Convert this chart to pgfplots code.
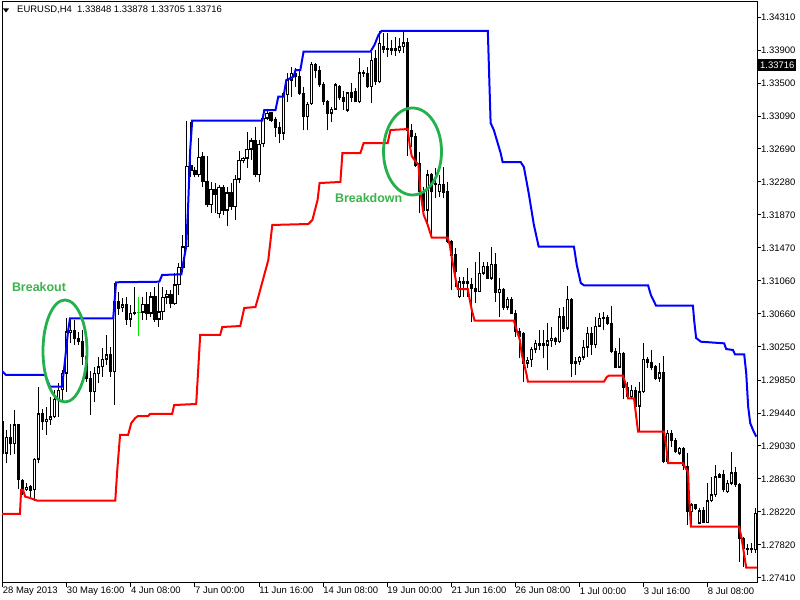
\documentclass[border=0pt]{standalone}
\usepackage{pgfplots}
\pgfplotsset{compat=1.18}
\usepackage{pgfplotstable}
\usepackage{fontspec}
\setmainfont{Liberation Sans}
\definecolor{mtgreen}{RGB}{34,177,76}
\definecolor{txtgreen}{RGB}{60,180,75}
\definecolor{doji}{RGB}{0,235,0}
\pgfplotstableread{
i o h l c
0 1.29333 1.29374 1.28841 1.28943
1 1.28943 1.29230 1.28820 1.29140
2 1.29140 1.29304 1.28923 1.29058
3 1.29058 1.29476 1.28935 1.29292
4 1.29292 1.29304 1.28500 1.28615
5 1.28615 1.28623 1.28430 1.28512
6 1.28500 1.28574 1.28484 1.28525
7 1.28533 1.28554 1.28410 1.28484
8 1.28492 1.28881 1.28361 1.28869
9 1.28869 1.29763 1.28820 1.29427
10 1.29435 1.29484 1.29230 1.29333
11 1.29333 1.29517 1.29169 1.29361
12 1.29361 1.29640 1.29292 1.29394
13 1.29394 1.29722 1.29374 1.29607
14 1.29607 1.29804 1.29394 1.29722
15 1.29722 1.29968 1.29558 1.29927
16 1.29927 1.30604 1.29702 1.30440
17 1.30431 1.30604 1.30296 1.30460
18 1.30460 1.30583 1.30276 1.30358
19 1.30358 1.30440 1.30276 1.30317
20 1.30317 1.30460 1.30030 1.30132
21 1.30132 1.30214 1.29825 1.29866
22 1.29866 1.29950 1.29415 1.29702
23 1.29702 1.30009 1.29579 1.29927
24 1.29919 1.30132 1.29804 1.30009
25 1.30009 1.30235 1.29886 1.30099
26 1.30099 1.30399 1.30030 1.30153
27 1.30165 1.30255 1.29886 1.29948
28 1.29948 1.31042 1.29538 1.30809
29 1.30809 1.30932 1.30645 1.30727
30 1.30739 1.30850 1.30686 1.30768
31 1.30768 1.30870 1.30522 1.30583
32 1.30591 1.30768 1.30501 1.30665
33 1.30665 1.30985 1.30644 1.30681
34 1.30677 1.30870 1.30390 1.30677
35 1.30677 1.30870 1.30583 1.30780
36 1.30780 1.30932 1.30583 1.30657
37 1.30665 1.30932 1.30624 1.30870
38 1.30870 1.30993 1.30562 1.30591
39 1.30591 1.31042 1.30501 1.30686
40 1.30686 1.30993 1.30583 1.30862
41 1.30862 1.30952 1.30780 1.30899
42 1.30899 1.30952 1.30727 1.30780
43 1.30780 1.31157 1.30768 1.31014
44 1.31014 1.31280 1.30890 1.31231
45 1.31231 1.31629 1.31219 1.31485
46 1.31485 1.33035 1.31465 1.32477
47 1.32489 1.33022 1.32346 1.32428
48 1.32428 1.32469 1.32338 1.32367
49 1.32367 1.32817 1.32346 1.32584
50 1.32592 1.32654 1.32215 1.32285
51 1.32285 1.32600 1.31977 1.31998
52 1.31998 1.32285 1.31895 1.32190
53 1.32190 1.32264 1.31900 1.32121
54 1.31887 1.32244 1.31834 1.32215
55 1.32215 1.32244 1.31875 1.31936
56 1.31936 1.32215 1.31739 1.32149
57 1.32149 1.32264 1.31936 1.31977
58 1.31977 1.32367 1.31813 1.32313
59 1.32313 1.32666 1.32264 1.32551
60 1.32543 1.32592 1.32510 1.32572
61 1.32572 1.32900 1.32449 1.32682
62 1.32682 1.32818 1.32551 1.32789
63 1.32789 1.32961 1.32346 1.32367
64 1.32367 1.32797 1.32285 1.32748
65 1.32748 1.33146 1.32715 1.33064
66 1.33064 1.33158 1.33044 1.33125
67 1.33133 1.33146 1.33023 1.33043
68 1.33051 1.33084 1.32838 1.32953
69 1.32953 1.33023 1.32756 1.32879
70 1.32879 1.33392 1.32797 1.33371
71 1.33351 1.33617 1.33269 1.33535
72 1.33535 1.33699 1.33330 1.33617
73 1.33617 1.33679 1.33453 1.33576
74 1.33576 1.33658 1.33350 1.33371
75 1.33371 1.33453 1.32920 1.33084
76 1.33084 1.33269 1.32920 1.33240
77 1.33240 1.33760 1.33228 1.33732
78 1.33732 1.33740 1.33556 1.33658
79 1.33658 1.33707 1.33453 1.33474
80 1.33474 1.33515 1.33228 1.33269
81 1.33269 1.33289 1.32920 1.33125
82 1.33125 1.33207 1.33023 1.33174
83 1.33174 1.33494 1.33166 1.33474
84 1.33461 1.33474 1.33289 1.33322
85 1.33322 1.33400 1.33166 1.33269
86 1.33166 1.33392 1.33146 1.33379
87 1.33379 1.33494 1.33269 1.33322
88 1.33400 1.33433 1.33269 1.33269
89 1.33269 1.33801 1.33248 1.33625
90 1.33625 1.33658 1.33576 1.33617
91 1.33617 1.33699 1.33433 1.33453
92 1.33453 1.33883 1.33248 1.33781
93 1.33802 1.33904 1.33474 1.33515
94 1.33515 1.34138 1.33494 1.33986
95 1.33945 1.34109 1.33863 1.33912
96 1.33912 1.34109 1.33822 1.33925
97 1.33925 1.34027 1.33843 1.33904
98 1.33904 1.34068 1.33830 1.33925
99 1.33896 1.34048 1.33863 1.33945
100 1.33945 1.34130 1.33863 1.33994
101 1.33994 1.34048 1.32600 1.32920
102 1.32920 1.32994 1.32715 1.32838
103 1.32838 1.32879 1.32469 1.32489
104 1.32510 1.32654 1.31895 1.32162
105 1.32162 1.32220 1.31875 1.31936
106 1.31936 1.32428 1.31780 1.32367
107 1.32367 1.32387 1.31596 1.32162
108 1.32244 1.32449 1.32080 1.32264
109 1.32162 1.32367 1.32100 1.32256
110 1.32256 1.32469 1.32080 1.32149
111 1.32162 1.32285 1.31526 1.31546
112 1.31546 1.31566 1.30952 1.31382
113 1.31394 1.31464 1.30993 1.31177
114 1.30870 1.31116 1.30850 1.31055
115 1.31055 1.31116 1.30870 1.31034
116 1.31034 1.31218 1.30870 1.31055
117 1.31014 1.31096 1.30562 1.30973
118 1.30973 1.31301 1.30788 1.30932
119 1.30932 1.31424 1.30932 1.31157
120 1.31157 1.31301 1.31137 1.31247
121 1.31247 1.31301 1.31096 1.31096
122 1.31096 1.31485 1.31075 1.31272
123 1.31272 1.31403 1.30809 1.30919
124 1.30919 1.31096 1.30624 1.30960
125 1.30960 1.30973 1.30706 1.30739
126 1.30739 1.30870 1.30706 1.30837
127 1.30837 1.30870 1.30657 1.30665
128 1.30665 1.30706 1.30378 1.30440
129 1.30440 1.30481 1.30111 1.30378
130 1.30419 1.30440 1.29825 1.30050
131 1.30050 1.30132 1.29989 1.30091
132 1.30091 1.30255 1.30009 1.30222
133 1.30222 1.30337 1.30173 1.30296
134 1.30296 1.30460 1.30214 1.30275
135 1.30275 1.30460 1.30111 1.30296
136 1.30275 1.30542 1.29968 1.30329
137 1.30329 1.30501 1.30255 1.30357
138 1.30357 1.30378 1.30275 1.30316
139 1.30316 1.30726 1.30296 1.30624
140 1.30632 1.30747 1.30440 1.30480
141 1.30480 1.31001 1.30460 1.30837
142 1.30837 1.30850 1.29886 1.30050
143 1.30050 1.30132 1.29907 1.30071
144 1.30071 1.30140 1.30030 1.30124
145 1.30124 1.30337 1.30091 1.30247
146 1.30247 1.30501 1.30132 1.30419
147 1.30419 1.30501 1.30153 1.30276
148 1.30276 1.30624 1.30235 1.30509
149 1.30509 1.30665 1.30493 1.30603
150 1.30603 1.30686 1.30460 1.30620
151 1.30620 1.30645 1.30521 1.30542
152 1.30542 1.30755 1.30173 1.30194
153 1.30194 1.30235 1.29989 1.30001
154 1.30001 1.30358 1.29989 1.30173
155 1.30173 1.30194 1.29607 1.29755
156 1.29755 1.29824 1.29620 1.29640
157 1.29640 1.29784 1.29620 1.29722
158 1.29722 1.29763 1.29517 1.29525
159 1.29525 1.29824 1.29210 1.29702
160 1.29702 1.30296 1.29681 1.30099
161 1.30099 1.30132 1.29989 1.30058
162 1.30058 1.30214 1.29968 1.30001
163 1.30017 1.30030 1.29845 1.29866
164 1.29866 1.30050 1.29824 1.29935
165 1.29935 1.30140 1.28820 1.28841
166 1.28841 1.29230 1.28820 1.29189
167 1.29189 1.29230 1.29025 1.29099
168 1.29099 1.29127 1.28943 1.28963
169 1.28943 1.29025 1.28923 1.29004
170 1.29004 1.29025 1.28738 1.28799
171 1.28787 1.28951 1.28062 1.28226
172 1.28226 1.28336 1.28041 1.28308
173 1.28308 1.28308 1.28246 1.28267
174 1.28082 1.28267 1.28074 1.28238
175 1.28246 1.28287 1.28082 1.28090
176 1.28090 1.28574 1.28082 1.28361
177 1.28361 1.28656 1.28340 1.28431
178 1.28431 1.28800 1.28410 1.28656
179 1.28677 1.28705 1.28636 1.28648
180 1.28677 1.28738 1.28472 1.28492
181 1.28472 1.28615 1.28451 1.28574
182 1.28574 1.28964 1.28554 1.28705
183 1.28705 1.28779 1.28533 1.28554
184 1.28554 1.28580 1.27610 1.27898
185 1.27898 1.27918 1.27540 1.27775
186 1.27775 1.27828 1.27692 1.27754
187 1.27754 1.27836 1.27713 1.27775
188 1.27754 1.28267 1.27713 1.28205
}\candles
\begin{document}
\begin{tikzpicture}[x=1bp,y=1bp]
\path[use as bounding box, fill=white] (0,0) rectangle (800,600);
\begin{axis}[
  at={(2bp,17bp)}, anchor=south west,
  scale only axis, width=755bp, height=581bp,
  xmin=-0.175, xmax=188.3,
  ymin=1.27348, ymax=1.34495,
  axis line style={black, line width=1bp},
  tick align=outside, major tick length=4bp,
  tick style={black, line width=1bp},
  xtick pos=left, ytick pos=right, yticklabel pos=right,
  xtick={0,16,32,48,64,80,96,112,128,144,160,176},
  xticklabels={28 May 2013,30 May 16:00,4 Jun 08:00,7 Jun 00:00,11 Jun 16:00,14 Jun 08:00,19 Jun 00:00,21 Jun 16:00,26 Jun 08:00,1 Jul 00:00,3 Jul 16:00,8 Jul 08:00},
  ytick={1.27410,1.27816,1.28222,1.28628,1.29034,1.29439,1.29845,1.30251,1.30657,1.31063,1.31469,1.31875,1.32281,1.32687,1.33092,1.33498,1.33904,1.34310},
  yticklabels={1.27410,1.27820,1.28220,1.28630,1.29030,1.29440,1.29850,1.30250,1.30660,1.31060,1.31470,1.31870,1.32280,1.32690,1.33090,1.33500,1.33900,1.34310},
  xticklabel style={anchor=north west, inner sep=0pt, font=\fontsize{9.5}{11}\selectfont},
  yticklabel style={anchor=west, inner sep=0pt, font=\fontsize{9.5}{11}\selectfont},
  clip mode=individual,
]
% wicks
\addplot[draw=none, mark=none, forget plot, error bars/.cd, y dir=plus, y explicit, error mark=none,
  error bar style={draw=black, line width=1bp}]
  table[x=i, y=l, y error expr=\thisrow{h}-\thisrow{l}] {\candles};
% bodies
\addplot[draw=none, mark=none, forget plot, error bars/.cd, y dir=plus, y explicit, error mark=none,
  error bar style={draw=black, line width=3.2bp}]
  table[x=i, y expr={min(\thisrow{o},\thisrow{c})-0.00006}, y error expr={abs(\thisrow{c}-\thisrow{o})+0.00012}] {\candles};
% hollow interior of bullish bodies
\addplot[draw=none, mark=none, forget plot, error bars/.cd, y dir=plus, y explicit, error mark=none,
  error bar style={draw=white, line width=1.2bp}]
  table[x=i, y expr={\thisrow{o}+0.00012}, y error expr={max(\thisrow{c}-\thisrow{o}-0.00024,0)}] {\candles};
% doji in green
\addplot[draw=none, mark=none, forget plot, error bars/.cd, y dir=plus, y explicit, error mark=none,
  error bar style={draw=doji, line width=1bp}]
  coordinates {(34,1.30390) +- (0,0.00480)};
\addplot[draw=none, mark=none, forget plot, error bars/.cd, y dir=plus, y explicit, error mark=none,
  error bar style={draw=doji, line width=3.2bp}]
  coordinates {(34,1.30671) +- (0,0.00012)};
% upper channel
\addplot[draw={rgb,255:red,0;green,0;blue,255}, line width=2bp, mark=none] coordinates {
(-0.2,1.29956) (0.8,1.29907) (10.6,1.29907) (11.8,1.29763) (14.8,1.29763) (15.3,1.29968) (16.3,1.30439) (16.8,1.30604) (27.6,1.30604) (28.3,1.31047) (39.1,1.31054) (39.8,1.31137) (44.6,1.31145) (45.1,1.31297) (45.8,1.31485) (46.3,1.31998) (46.8,1.32674) (47.3,1.33035) (64.8,1.33035) (65.3,1.33166) (68.1,1.33166) (68.8,1.33330) (70.1,1.33330) (70.8,1.33535) (72.6,1.33576) (73.1,1.33658) (74.3,1.33658) (75.1,1.33883) (91.8,1.33883) (92.8,1.33966) (93.8,1.34089) (94.6,1.34141) (121.1,1.34141) (121.8,1.33006) (122.6,1.32920) (124.3,1.32637) (124.8,1.32526) (129.3,1.32526) (130.1,1.32465) (131.3,1.32145) (132.6,1.31752) (133.6,1.31530) (133.8,1.31485) (142.6,1.31485) (143.3,1.31260) (144.3,1.31038) (145.1,1.31010) (161.1,1.31010) (161.8,1.30891) (163.1,1.30759) (172.3,1.30759) (172.6,1.30583) (173.1,1.30362) (174.3,1.30316) (180.1,1.30296) (180.6,1.30226) (182.3,1.30214) (182.8,1.30161) (185.1,1.30161) (185.6,1.29931) (186.1,1.29513) (186.6,1.29316) (187.3,1.29230) (188.1,1.29148)
};
% lower channel
\addplot[draw={rgb,255:red,255;green,0;blue,0}, line width=2bp, mark=none] coordinates {
(-0.2,1.28197) (4.3,1.28197) (4.6,1.28492) (5.1,1.28492) (5.6,1.28410) (6.8,1.28394) (8.6,1.28361) (28.1,1.28361) (28.6,1.28738) (29.3,1.29169) (31.3,1.29169) (32.1,1.29316) (33.1,1.29378) (33.8,1.29402) (36.3,1.29402) (36.8,1.29427) (42.3,1.29427) (42.8,1.29537) (48.3,1.29550) (48.8,1.29968) (49.3,1.30399) (54.3,1.30399) (54.8,1.30497) (59.3,1.30509) (60.3,1.30731) (63.1,1.30743) (63.8,1.30866) (66.3,1.31321) (67.3,1.31752) (76.3,1.31764) (77.3,1.31813) (78.6,1.32059) (79.1,1.32268) (84.3,1.32281) (84.8,1.32637) (89.3,1.32637) (90.1,1.32760) (96.1,1.32760) (96.8,1.32920) (101.1,1.32932) (101.6,1.32736) (102.1,1.32600) (102.8,1.32551) (103.8,1.32490) (104.3,1.32145) (105.1,1.31875) (106.1,1.31752) (107.1,1.31595) (111.1,1.31595) (111.6,1.31506) (112.3,1.31297) (113.1,1.31075) (113.6,1.30964) (116.1,1.30964) (116.6,1.30829) (117.1,1.30706) (117.8,1.30575) (127.6,1.30575) (128.3,1.30460) (129.1,1.30337) (129.6,1.30153) (130.1,1.30054) (130.8,1.29907) (131.1,1.29824) (150.1,1.29824) (150.8,1.29882) (151.3,1.29898) (154.8,1.29898) (155.6,1.29784) (156.1,1.29620) (157.6,1.29620) (158.1,1.29415) (158.6,1.29209) (165.1,1.29209) (165.6,1.29046) (166.1,1.28821) (169.8,1.28821) (170.6,1.28750) (171.1,1.28714) (171.3,1.28431) (171.8,1.28041) (183.8,1.28041) (184.3,1.27939) (184.8,1.27791) (185.1,1.27693) (185.6,1.27537) (188.3,1.27537)
};
% annotations
\draw[mtgreen, line width=2.8bp] (axis cs:15.55,1.30202) ellipse [x radius=22bp, y radius=51bp];
\draw[mtgreen, line width=2.8bp] (axis cs:102.3,1.32656) ellipse [x radius=29bp, y radius=43.5bp];
\node[inner sep=0pt, text=txtgreen, font=\bfseries\fontsize{12.5}{14}\selectfont] at (axis cs:9.06,1.30983) {Breakout};
\node[inner sep=0pt, text=txtgreen, font=\bfseries\fontsize{12.5}{14}\selectfont] at (axis cs:91.36,1.32080) {Breakdown};
\coordinate (cp) at (axis cs:188.3,1.33716);
\end{axis}
\node[anchor=west, fill=black, text=white, inner xsep=2bp, inner ysep=0pt, minimum height=12bp, font=\fontsize{9.5}{11}\selectfont] at ([xshift=1bp]cp) {1.33716};
\fill[black] (3,591.5) -- (9,591.5) -- (6,587.5) -- cycle;
\node[anchor=west, inner sep=0pt, font=\fontsize{9.5}{11}\selectfont] at (17,590) {EURUSD,H4\ \ 1.33848 1.33878 1.33705 1.33716};
\end{tikzpicture}
\end{document}
